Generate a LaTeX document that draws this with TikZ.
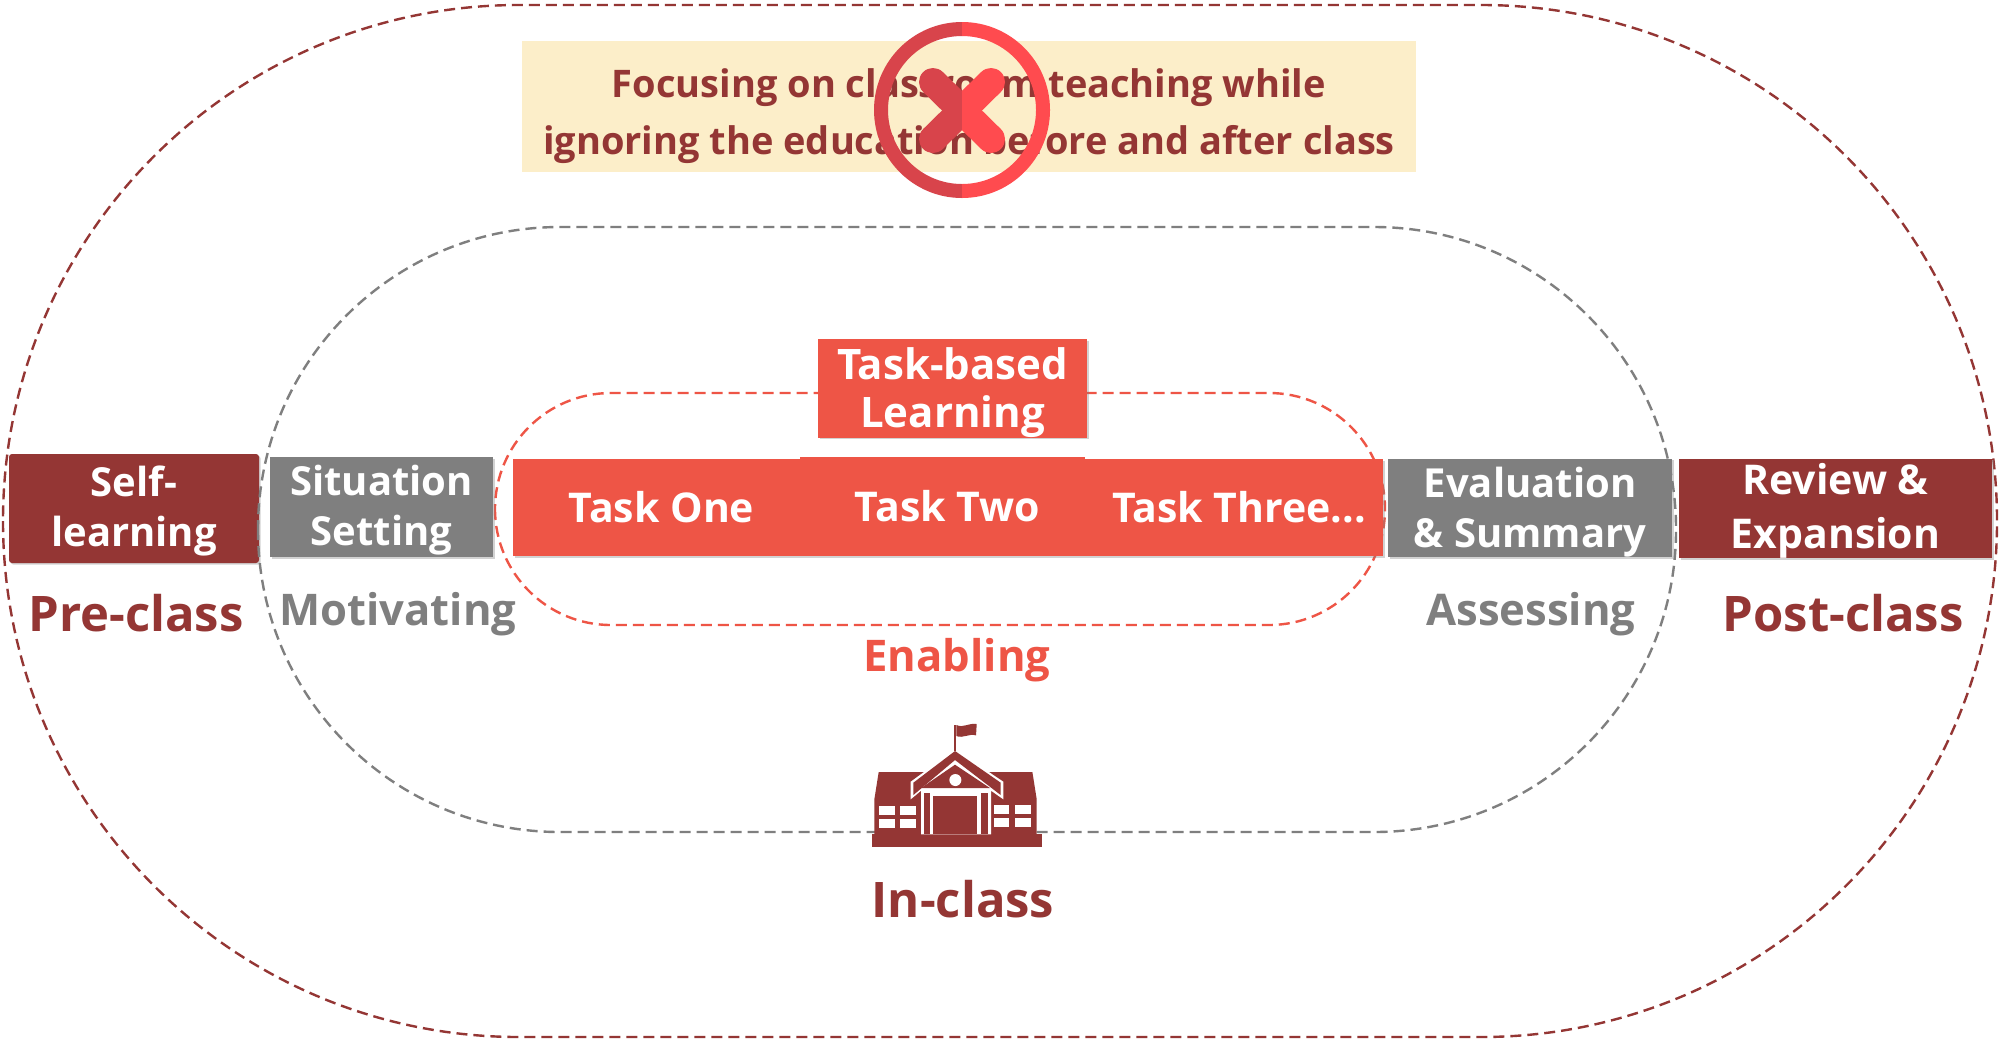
\documentclass[tikz,border=0pt]{standalone}
\usepackage{fontspec}
\setmainfont{Open Sans}
\usetikzlibrary{shadows}
\definecolor{darkred}{HTML}{943634}
\definecolor{midgray}{HTML}{7F7F7F}
\definecolor{taskred}{HTML}{EE5546}
\definecolor{paleyellow}{HTML}{FCEEC9}
\definecolor{crossdark}{HTML}{D8444B}
\definecolor{crosslight}{HTML}{FF4B4F}

\begin{document}
\begin{tikzpicture}[
  x=.5pt,
  y=-.5pt,
  ringline/.style={line width=1.2pt,dash pattern=on 5.5pt off 3pt},
  box/.style={
    inner sep=0pt,
    align=center,
    text=white,
    font=\bfseries\fontsize{20}{25}\selectfont,
    drop shadow={shadow xshift=.8pt,shadow yshift=-.8pt,opacity=.35}
  },
  taskbox/.style={box,fill=taskred,font=\bfseries\fontsize{20.5}{25}\selectfont},
  phase/.style={font=\bfseries\fontsize{24.5}{28}\selectfont,text=darkred,inner sep=0pt},
  stage/.style={font=\bfseries\fontsize{21.8}{24}\selectfont,inner sep=0pt}
]
  \useasboundingbox (0,0) rectangle (2000,1040);
  \fill[white] (0,0) rectangle (2000,1040);

  \node[fill=paleyellow,minimum width=447pt,minimum height=65.5pt,inner sep=0pt] (warningbox) at (969,106.5) {};
  \node[align=center,inner sep=0pt,text=darkred,font=\bfseries\fontsize{19}{28.5}\selectfont] (warning) at (969,116)
    {Focusing on classroom teaching while\\ignoring the education before and after class};

  % forbidden sign
  \foreach \halfcolor/\clipleft/\clipright in {crossdark/860/962,crosslight/962/1060}{
    \begin{scope}
      \clip (\clipleft,10) rectangle (\clipright,210);
      \draw[\halfcolor,line width=7pt] (962,110) circle (81);
      \draw[\halfcolor,line width=14pt,line cap=round] (933,82) -- (991,139);
      \draw[\halfcolor,line width=14pt,line cap=round] (991,82) -- (933,139);
    \end{scope}
  }

  \draw[ringline,darkred,rounded corners=258pt] (3,5) rectangle (1997,1037);

  \node[box,fill=darkred,rounded corners=1.5pt,minimum width=125pt,minimum height=54.5pt] (selflearning) at (134,508.5) {\rule{0pt}{18pt}Self-\\learning};
  \draw[ringline,midgray,rounded corners=151pt] (258,227) rectangle (1676,832);
  \draw[ringline,taskred,rounded corners=58pt] (495,393) rectangle (1385,625);

  \node[box,fill=midgray,minimum width=111.5pt,minimum height=50pt] (situation) at (381.5,507) {\rule{0pt}{18.5pt}Situation\\Setting};
  \node[taskbox,minimum width=143.5pt,minimum height=48.5pt] (taskone) at (656.5,507.5) {\kern5pt Task One};
  \node[taskbox,minimum width=142.5pt,minimum height=49.5pt] (tasktwo) at (942.5,506.5) {\kern5pt Task Two};
  \node[taskbox,minimum width=149pt,minimum height=48.5pt] (taskthree) at (1234,507.5) {\kern5pt Task Three...};
  \node[taskbox,font=\bfseries\fontsize{21}{24}\selectfont,minimum width=134.5pt,minimum height=47.5pt] (taskbased) at (952.5,388.5) {\rule{0pt}{20pt}Task-based\\Learning};
  \node[box,fill=midgray,minimum width=142pt,minimum height=49pt] (evaluation) at (1530,508) {\rule{0pt}{19.5pt}Evaluation\\\& Summary};
  \node[box,fill=darkred,font=\bfseries\fontsize{20.5}{27}\selectfont,minimum width=156.5pt,minimum height=48.5pt] (review) at (1835.5,508.5) {\rule{0pt}{18pt}Review \&\\Expansion};

  \node[phase] (preclass) at (136,613) {Pre-class};
  \node[phase] (postclass) at (1843,613) {Post-class};
  \node[phase] (inclass) at (963,899) {In-class};
  \node[stage,text=midgray] (motivating) at (398,614) {Motivating};
  \node[stage,text=midgray] (assessing) at (1531,614) {Assessing};
  \node[stage,text=taskred] (enabling) at (957,660) {Enabling};

  % school, traced on a 3x grid
  \begin{scope}[shift={(820,700)},x=.1667pt,y=-.1667pt]
    \fill[darkred] (157,403) rectangle (665,442);
    \fill[darkred] (163,403) -- (163,298) -- (176,216) -- (637,216) -- (650,298) -- (650,403) -- cycle;
    \fill[white] (272,245) -- (405,148) -- (550,245) -- (550,298) -- (513,272) -- (513,403) -- (303,403) -- (303,272) -- (272,298) -- cycle;
    \fill[darkred] (280,248) -- (405,153) -- (542,248) -- (542,285) -- (405,180) -- (280,285) -- cycle;
    \fill[darkred] (303,264) -- (405,194) -- (510,264) -- cycle;
    \fill[darkred] (312,280) rectangle (330,403);
    \fill[darkred] (482,280) rectangle (505,403);
    \fill[darkred] (340,288) rectangle (472,403);
    \fill[white] (406,240) circle (18);
    \foreach \winx/\winy in {177/318,241/318,177/357,241/357,521/316,585/316,521/355,585/355}
      \fill[white] (\winx,\winy) rectangle ++(47,27);
    \fill[darkred] (403,75) rectangle (409,153);
    \fill[darkred] (409,75) .. controls (430,85) and (445,68) .. (470,72) -- (468,106) .. controls (445,100) and (430,116) .. (409,108) -- cycle;
  \end{scope}
\end{tikzpicture}
\end{document}
